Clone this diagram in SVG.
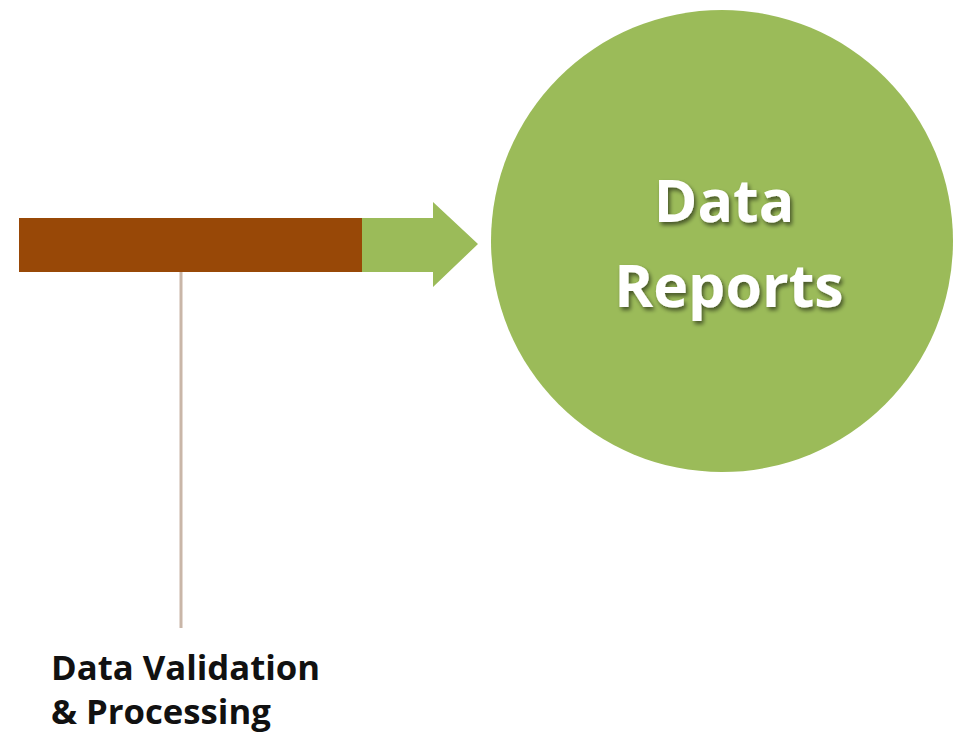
<svg xmlns="http://www.w3.org/2000/svg" width="954" height="737" viewBox="0 0 954 737">
  <defs>
    <filter id="shadow" x="-10%" y="-10%" width="130%" height="140%">
      <feGaussianBlur in="SourceAlpha" stdDeviation="2"/>
      <feOffset dx="2" dy="3" result="b"/>
      <feComponentTransfer><feFuncA type="linear" slope="0.55"/></feComponentTransfer>
      <feMerge><feMergeNode/><feMergeNode in="SourceGraphic"/></feMerge>
    </filter>
  </defs>
  <style>
    .big { font-family: "Open Sans", "Liberation Sans", sans-serif; font-weight: bold; font-size: 59px; fill: #ffffff; text-anchor: middle; }
    .label { font-family: "Open Sans", "Liberation Sans", sans-serif; font-weight: bold; font-size: 34.7px; fill: #111111; }
  </style>
  <rect width="954" height="737" fill="#ffffff"/>
  <g id="connectors">
    <line x1="181" y1="272" x2="181" y2="628" stroke="#c9b6a8" stroke-width="3"/>
    <polygon points="362,218 433,218 433,202 478,244 433,287 433,272 362,272" fill="#9bbb59"/>
  </g>
  <g id="process-bar">
    <rect x="19" y="218" width="343" height="54" fill="#984807"/>
  </g>
  <g id="data-reports">
    <circle cx="722" cy="241" r="231" fill="#9bbb59"/>
    <g filter="url(#shadow)">
      <text class="big" x="724" y="222">Data</text>
      <text class="big" x="729" y="307">Reports</text>
    </g>
  </g>
  <g id="label">
    <text class="label" x="51" y="680">Data Validation</text>
    <text class="label" x="51" y="724">&amp; Processing</text>
  </g>
</svg>
